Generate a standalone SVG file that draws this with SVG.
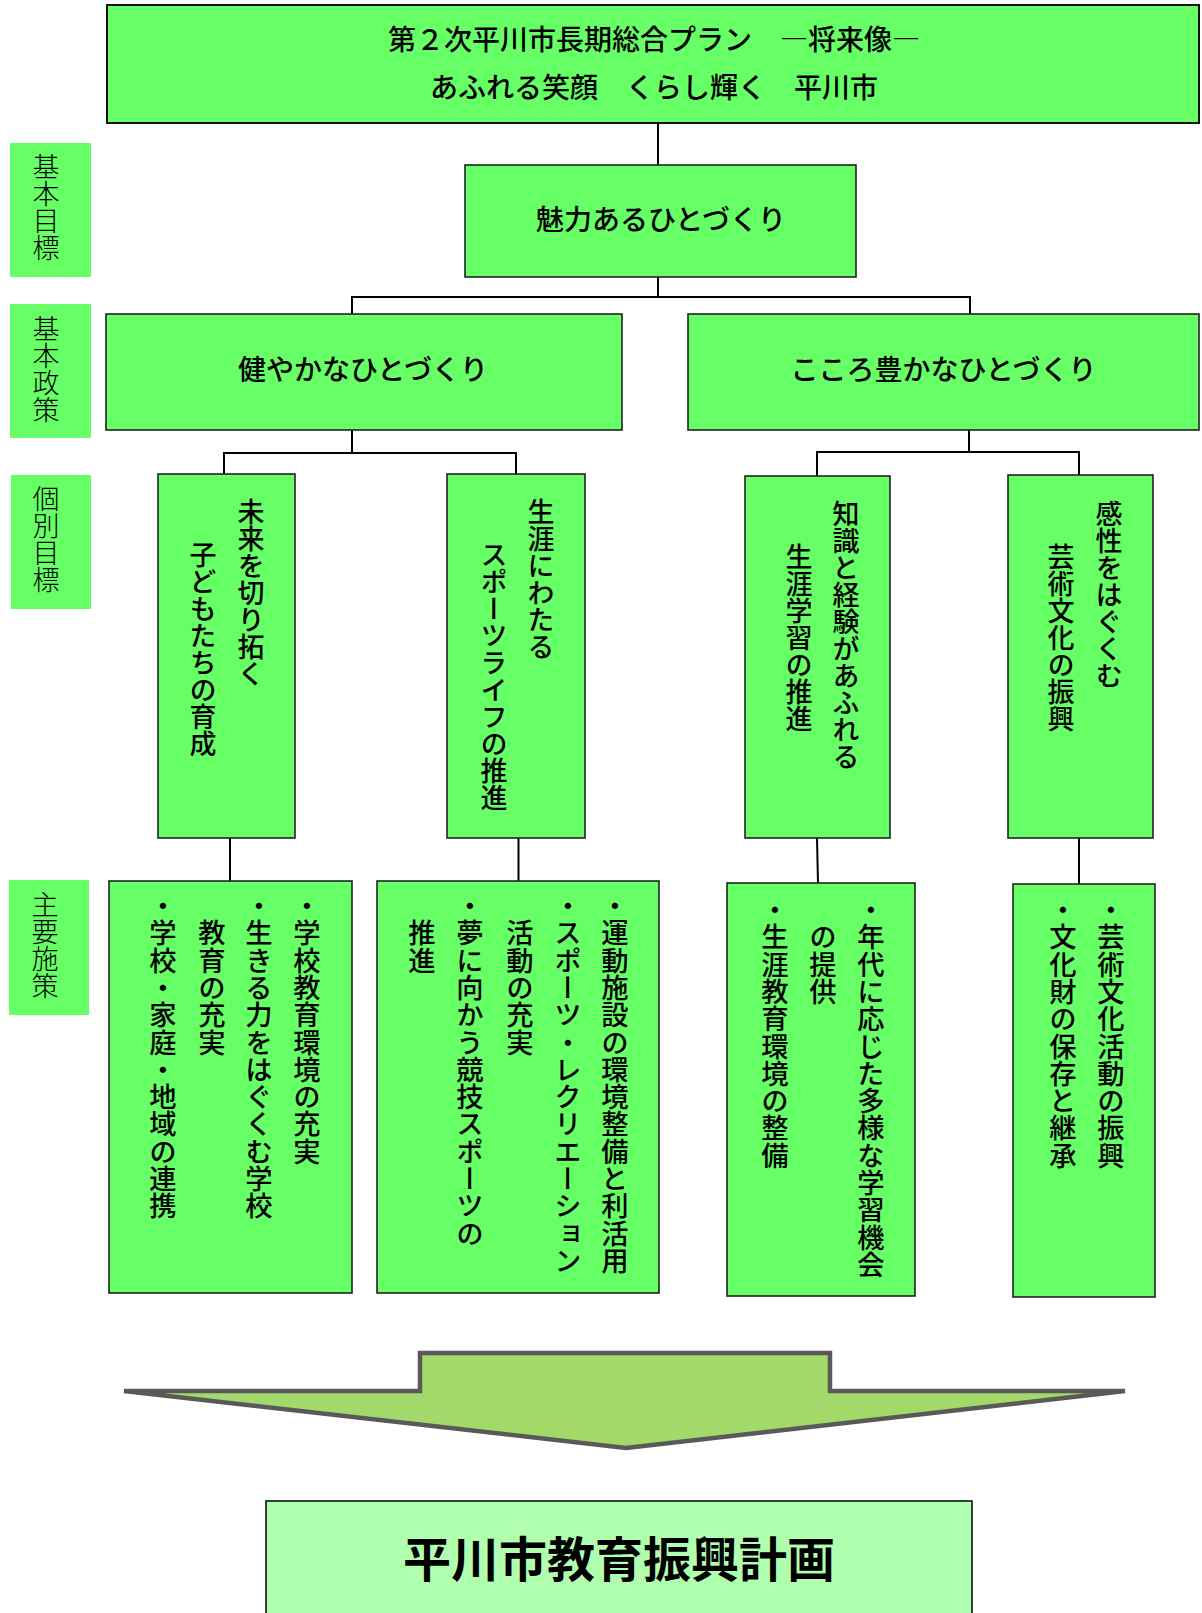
<svg xmlns="http://www.w3.org/2000/svg" width="1202" height="1613" viewBox="0 0 1202 1613">
<style>
text{font-family:"Noto Sans CJK JP","Noto Sans CJK SC",sans-serif;fill:#000}
.box{fill:#66FF66;stroke:#222;stroke-width:1.6}
.top{fill:#66FF66;stroke:#111;stroke-width:2}
.lab{fill:#66FF66}
.h{font-size:28px;font-weight:500;text-anchor:middle}
.v{font-size:27px;font-weight:500;writing-mode:vertical-rl}
.vs{font-size:27.3px;font-weight:500;writing-mode:vertical-rl}
.lt{font-size:27px;font-weight:300;writing-mode:vertical-rl}
.con{fill:none;stroke:#000;stroke-width:2}
</style>
<rect width="1202" height="1613" fill="#fff"/>
<g id="labels">
<g id="label-kihon-mokuhyo"><rect class="lab" x="10" y="143" width="81" height="134"/><text class="lt" x="46" y="153">基本目標</text></g>
<g id="label-kihon-seisaku"><rect class="lab" x="10" y="304" width="81" height="134"/><text class="lt" x="46" y="315">基本政策</text></g>
<g id="label-kobetsu-mokuhyo"><rect class="lab" x="11" y="475" width="80" height="134"/><text class="lt" x="46" y="485">個別目標</text></g>
<g id="label-shuyo-shisaku"><rect class="lab" x="9" y="880" width="80" height="135"/><text class="lt" x="45" y="891">主要施策</text></g>
</g>
<g id="connectors">
<path class="con" d="M658,123V165"/>
<path class="con" d="M658,277V297M352,314V297H970V314"/>
<path class="con" d="M352,430V453M224,474V453H516V474"/>
<path class="con" d="M969,430V452M817,476V452H1079V475"/>
<path class="con" d="M230,838V881M518.5,838V881M817,838L818,883M1079,838V884"/>
</g>
<g id="vision"><rect class="top" x="107" y="5" width="1092" height="118"/>
<text class="h" x="654" y="50">第２次平川市長期総合プラン　―将来像―</text>
<text class="h" x="654" y="98">あふれる笑顔　くらし輝く　平川市</text></g>
<g id="goal"><rect class="box" x="465" y="165" width="391" height="112"/><text class="h" x="661" y="230">魅力あるひとづくり</text></g>
<g id="policy-1"><rect class="box" x="106" y="314" width="516" height="116"/><text class="h" x="363" y="380">健やかなひとづくり</text></g>
<g id="policy-2"><rect class="box" x="688" y="314" width="511" height="116"/><text class="h" x="943.5" y="380">こころ豊かなひとづくり</text></g>
<g id="target-1"><rect class="box" x="158" y="474" width="137" height="364"/>
<text class="v" x="251" y="498">未来を切り拓く</text><text class="v" x="203" y="541">子どもたちの育成</text></g>
<g id="target-2"><rect class="box" x="447" y="474" width="138" height="364"/>
<text class="v" x="541" y="498">生涯にわたる</text><text class="v" x="494" y="541">スポーツライフの推進</text></g>
<g id="target-3"><rect class="box" x="745" y="476" width="145" height="362"/>
<text class="v" x="846" y="500">知識と経験があふれる</text><text class="v" x="799" y="543">生涯学習の推進</text></g>
<g id="target-4"><rect class="box" x="1008" y="475" width="145" height="363"/>
<text class="v" x="1109" y="500">感性をはぐくむ</text><text class="v" x="1061" y="543">芸術文化の振興</text></g>
<g id="measures-1"><rect class="box" x="109" y="881" width="243" height="412"/>
<text class="vs" x="307" y="892">・学校教育環境の充実</text>
<text class="vs" x="259" y="892">・生きる力をはぐくむ学校</text>
<text class="vs" x="212" y="919.3">教育の充実</text>
<text class="vs" x="163" y="892">・学校・家庭・地域の連携</text></g>
<g id="measures-2"><rect class="box" x="377" y="881" width="282" height="412"/>
<text class="vs" x="615" y="892">・運動施設の環境整備と利活用</text>
<text class="vs" x="568" y="892">・スポーツ・レクリエーション</text>
<text class="vs" x="520" y="919.3">活動の充実</text>
<text class="vs" x="470" y="892">・夢に向かう競技スポーツの</text>
<text class="vs" x="422" y="919.3">推進</text></g>
<g id="measures-3"><rect class="box" x="727" y="883" width="188" height="413"/>
<text class="vs" x="871" y="896">・年代に応じた多様な学習機会</text>
<text class="vs" x="823" y="923.3">の提供</text>
<text class="vs" x="775" y="896">・生涯教育環境の整備</text></g>
<g id="measures-4"><rect class="box" x="1013" y="884" width="142" height="413"/>
<text class="vs" x="1111" y="896">・芸術文化活動の振興</text>
<text class="vs" x="1063" y="896">・文化財の保存と継承</text></g>
<g id="arrow"><path d="M420,1353H830V1391H1125L626,1448L124,1391H420Z" fill="#A3D86B" stroke="#595959" stroke-width="4.5" stroke-linejoin="miter"/></g>
<g id="plan"><rect x="266" y="1501" width="706" height="130" fill="#AFFFAF" stroke="#111" stroke-width="1.6"/>
<text x="619" y="1577" style="font-size:48px;font-weight:700;text-anchor:middle">平川市教育振興計画</text></g>
</svg>
